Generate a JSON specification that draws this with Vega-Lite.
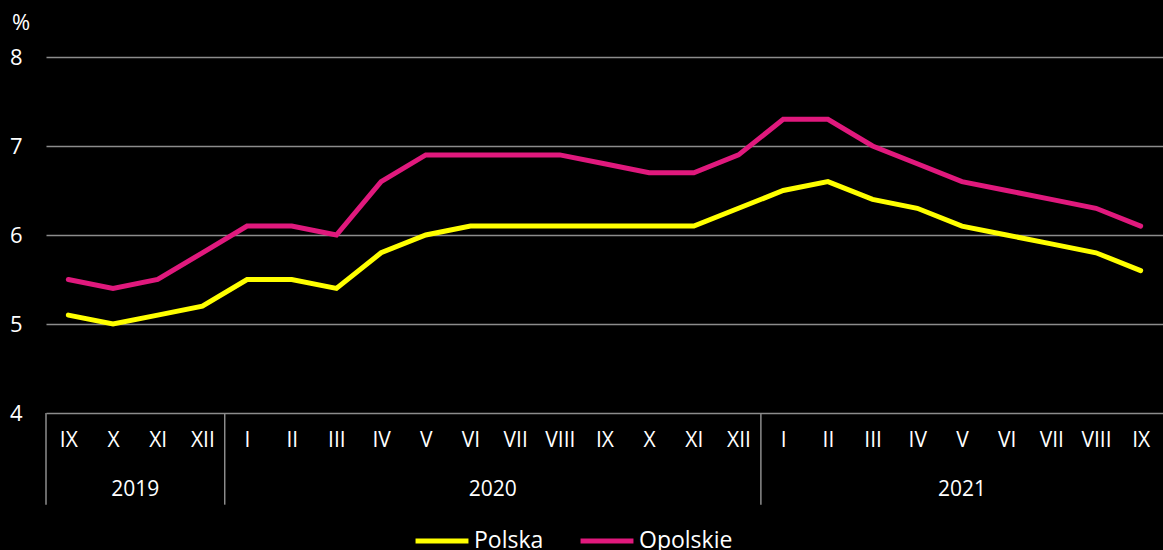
{
  "$schema": "https://vega.github.io/schema/vega-lite/v6.json",
  "autosize": {"type": "none"},
  "width": 1117,
  "height": 356,
  "padding": {"left": 46, "top": 57, "right": 0, "bottom": 137},
  "background": "#000000",
  "config": {
    "view": {"stroke": null},
    "font": "Open Sans",
    "text": {"font": "Open Sans"}
  },
  "datasets": {
    "series": [
      {"i": 0, "m": "IX", "series": "Polska", "v": 5.1},
      {"i": 1, "m": "X", "series": "Polska", "v": 5.0},
      {"i": 2, "m": "XI", "series": "Polska", "v": 5.1},
      {"i": 3, "m": "XII", "series": "Polska", "v": 5.2},
      {"i": 4, "m": "I", "series": "Polska", "v": 5.5},
      {"i": 5, "m": "II", "series": "Polska", "v": 5.5},
      {"i": 6, "m": "III", "series": "Polska", "v": 5.4},
      {"i": 7, "m": "IV", "series": "Polska", "v": 5.8},
      {"i": 8, "m": "V", "series": "Polska", "v": 6.0},
      {"i": 9, "m": "VI", "series": "Polska", "v": 6.1},
      {"i": 10, "m": "VII", "series": "Polska", "v": 6.1},
      {"i": 11, "m": "VIII", "series": "Polska", "v": 6.1},
      {"i": 12, "m": "IX", "series": "Polska", "v": 6.1},
      {"i": 13, "m": "X", "series": "Polska", "v": 6.1},
      {"i": 14, "m": "XI", "series": "Polska", "v": 6.1},
      {"i": 15, "m": "XII", "series": "Polska", "v": 6.3},
      {"i": 16, "m": "I", "series": "Polska", "v": 6.5},
      {"i": 17, "m": "II", "series": "Polska", "v": 6.6},
      {"i": 18, "m": "III", "series": "Polska", "v": 6.4},
      {"i": 19, "m": "IV", "series": "Polska", "v": 6.3},
      {"i": 20, "m": "V", "series": "Polska", "v": 6.1},
      {"i": 21, "m": "VI", "series": "Polska", "v": 6.0},
      {"i": 22, "m": "VII", "series": "Polska", "v": 5.9},
      {"i": 23, "m": "VIII", "series": "Polska", "v": 5.8},
      {"i": 24, "m": "IX", "series": "Polska", "v": 5.6},
      {"i": 0, "m": "IX", "series": "Opolskie", "v": 5.5},
      {"i": 1, "m": "X", "series": "Opolskie", "v": 5.4},
      {"i": 2, "m": "XI", "series": "Opolskie", "v": 5.5},
      {"i": 3, "m": "XII", "series": "Opolskie", "v": 5.8},
      {"i": 4, "m": "I", "series": "Opolskie", "v": 6.1},
      {"i": 5, "m": "II", "series": "Opolskie", "v": 6.1},
      {"i": 6, "m": "III", "series": "Opolskie", "v": 6.0},
      {"i": 7, "m": "IV", "series": "Opolskie", "v": 6.6},
      {"i": 8, "m": "V", "series": "Opolskie", "v": 6.9},
      {"i": 9, "m": "VI", "series": "Opolskie", "v": 6.9},
      {"i": 10, "m": "VII", "series": "Opolskie", "v": 6.9},
      {"i": 11, "m": "VIII", "series": "Opolskie", "v": 6.9},
      {"i": 12, "m": "IX", "series": "Opolskie", "v": 6.8},
      {"i": 13, "m": "X", "series": "Opolskie", "v": 6.7},
      {"i": 14, "m": "XI", "series": "Opolskie", "v": 6.7},
      {"i": 15, "m": "XII", "series": "Opolskie", "v": 6.9},
      {"i": 16, "m": "I", "series": "Opolskie", "v": 7.3},
      {"i": 17, "m": "II", "series": "Opolskie", "v": 7.3},
      {"i": 18, "m": "III", "series": "Opolskie", "v": 7.0},
      {"i": 19, "m": "IV", "series": "Opolskie", "v": 6.8},
      {"i": 20, "m": "V", "series": "Opolskie", "v": 6.6},
      {"i": 21, "m": "VI", "series": "Opolskie", "v": 6.5},
      {"i": 22, "m": "VII", "series": "Opolskie", "v": 6.4},
      {"i": 23, "m": "VIII", "series": "Opolskie", "v": 6.3},
      {"i": 24, "m": "IX", "series": "Opolskie", "v": 6.1}
    ],
    "years": [
      {"pos": 1.5, "year": "2019"},
      {"pos": 9.5, "year": "2020"},
      {"pos": 20, "year": "2021"}
    ],
    "seps": [
      {"sep": -0.5},
      {"sep": 3.5},
      {"sep": 15.5}
    ],
    "unit": [
      {"label": "%"}
    ]
  },
  "layer": [
    {
      "data": {"name": "series"},
      "mark": {"type": "line", "strokeWidth": 5, "strokeCap": "round", "strokeJoin": "miter"},
      "encoding": {
        "x": {
          "field": "i",
          "type": "quantitative",
          "scale": {"domain": [-0.5, 24.5], "nice": false, "zero": false},
          "axis": {
            "title": null,
            "values": [0,1,2,3,4,5,6,7,8,9,10,11,12,13,14,15,16,17,18,19,20,21,22,23,24],
            "labelExpr": "['IX','X','XI','XII','I','II','III','IV','V','VI','VII','VIII','IX','X','XI','XII','I','II','III','IV','V','VI','VII','VIII','IX'][datum.value]",
            "grid": false,
            "ticks": false,
            "domain": false,
            "labelColor": "#ffffff",
            "labelFontSize": 21,
            "labelPadding": 16,
            "labelFlush": false,
            "labelOverlap": false,
            "labelBound": false
          }
        },
        "y": {
          "field": "v",
          "type": "quantitative",
          "scale": {"domain": [4, 8], "nice": false, "zero": false},
          "axis": {
            "title": null,
            "values": [4, 5, 6, 7, 8],
            "format": "d",
            "grid": true,
            "gridColor": "#8c8c8c",
            "gridWidth": 1.5,
            "ticks": false,
            "domain": false,
            "labelColor": "#ffffff",
            "labelFontSize": 22,
            "labelPadding": 24,
            "labelAlign": "right"
          }
        },
        "stroke": {
          "field": "series",
          "type": "nominal",
          "scale": {"domain": ["Polska", "Opolskie"], "range": ["#ffff00", "#e0197d"]},
          "legend": {
            "title": null,
            "orient": "none",
            "legendX": 367,
            "legendY": 455,
            "direction": "horizontal",
            "symbolType": "stroke",
            "symbolSize": 2800,
            "symbolStrokeWidth": 5,
            "labelColor": "#ffffff",
            "labelFontSize": 23,
            "labelOffset": 3,
            "columnPadding": 26,
            "symbolOffset": 0
          }
        }
      }
    },
    {
      "data": {"name": "seps"},
      "mark": {"type": "rule", "color": "#8c8c8c", "strokeWidth": 1.5},
      "encoding": {
        "x": {"field": "sep", "type": "quantitative"},
        "y": {"datum": 4},
        "y2": {"datum": 2.97}
      }
    },
    {
      "data": {"name": "years"},
      "mark": {"type": "text", "color": "#ffffff", "fontSize": 21, "baseline": "middle", "align": "center"},
      "encoding": {
        "x": {"field": "pos", "type": "quantitative"},
        "y": {"datum": 3.13},
        "text": {"field": "year"}
      }
    },
    {
      "data": {"name": "unit"},
      "mark": {"type": "text", "color": "#ffffff", "fontSize": 22, "baseline": "middle", "align": "center", "dx": -25},
      "encoding": {
        "x": {"datum": -0.5},
        "y": {"datum": 8.38},
        "text": {"field": "label"}
      }
    }
  ]
}
